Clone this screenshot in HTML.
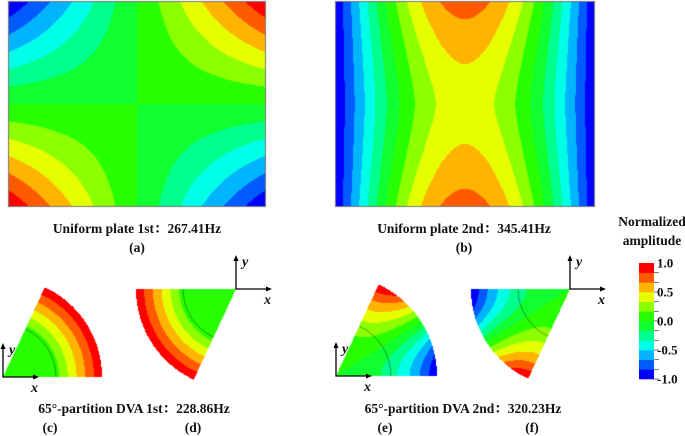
<!DOCTYPE html>
<html><head><meta charset="utf-8">
<style>
html,body{margin:0;padding:0;background:#fff;}
#wrap{position:relative;width:685px;height:436px;overflow:hidden;}
canvas,svg{position:absolute;left:0;top:0;}
text{font-family:"Liberation Serif","Noto Serif CJK SC",serif;font-weight:bold;fill:#111;}
</style></head>
<body>
<div id="wrap">
<canvas id="cv" width="685" height="436"></canvas>
<svg id="sv" width="685" height="436">
  <g font-size="13.5" text-anchor="middle">
    <text x="137" y="233">Uniform plate 1st：267.41Hz</text>
    <text x="137" y="252">(a)</text>
    <text x="464" y="233">Uniform plate 2nd：345.41Hz</text>
    <text x="464" y="252">(b)</text>
    <text x="134" y="413">65°-partition DVA 1st：228.86Hz</text>
    <text x="50" y="432">(c)</text>
    <text x="193" y="432">(d)</text>
    <text x="463" y="413">65°-partition DVA 2nd：320.23Hz</text>
    <text x="385" y="432">(e)</text>
    <text x="532" y="432">(f)</text>
    <text x="652" y="226">Normalized</text>
    <text x="652" y="245">amplitude</text>
  </g>
  <g id="axes" stroke="#000" stroke-width="1.3" fill="none"></g>
  <g id="axlab" font-size="14" font-style="italic"></g>
  <g id="cbar"></g>
</svg>
</div>
<script>
// colorbar data
const levelMin = -1, levelMax = 1;
const binColors = ["#0000ff","#005aff","#00b4ff","#00ffe6","#00ff8c","#10ff30","#28ff00","#8cff00","#e6ff00","#ffb400","#ff5a00","#ff0000"];
const tickValues = [1.0, 0.5, 0.0, -0.5, -1.0];
const tickLabels = ["1.0","0.5","0.0","-0.5","-1.0"];

function hex(c){return [parseInt(c.substr(1,2),16),parseInt(c.substr(3,2),16),parseInt(c.substr(5,2),16)];}
const rgb=binColors.map(hex);
function rgbOf(v){
  let t=(v-levelMin)/(levelMax-levelMin);
  let i=Math.floor(t*rgb.length);
  if(i<0)i=0; if(i>=rgb.length)i=rgb.length-1;
  return rgb[i];
}
const cv=document.getElementById('cv');
const ctx=cv.getContext('2d');
const img=ctx.createImageData(685,436);
function put(x,y,v){const c=rgbOf(v);const k=(y*685+x)*4;img.data[k]=c[0];img.data[k+1]=c[1];img.data[k+2]=c[2];img.data[k+3]=255;}
for(let k=0;k<img.data.length;k+=4){img.data[k]=255;img.data[k+1]=255;img.data[k+2]=255;img.data[k+3]=255;}
function rect(x0,y0,x1,y1,f){for(let y=y0;y<y1;y++)for(let x=x0;x<x1;x++){put(x,y,f((x+0.5-x0)/(x1-x0),(y+0.5-y0)/(y1-y0)));}}
rect(8,1,266,207,(u,w)=>-(2*u-1)*(2*w-1));
rect(335,1,595,207,(u,w)=>{const k=1.42+0.33*Math.pow(Math.abs(2*w-1),1.5);return -1+Math.sin(Math.PI*u)*k;});
const A=65*Math.PI/180;
function sector(cx,cy,R,down,f){
  for(let y=Math.floor(cy-R-2);y<cy+R+2;y++)for(let x=Math.floor(cx-R-2);x<cx+R+2;x++){
    if(x<0||y<0||x>=685||y>=436)continue;
    const dx=x+0.5-cx, dy=cy-(y+0.5);
    const r=Math.hypot(dx,dy); if(r>R)continue;
    const a=Math.atan2(dy,dx);
    const phi = down ? (a<0 ? a+Math.PI : 99) : a;
    if(phi<0||phi>A)continue;
    put(x,y,f(r/R,phi/A));
  }
}
const m1=(s,p)=>Math.max(0,s-0.48)*1.9;
const m2=(s,p)=>-Math.pow(s,2.2)*Math.cos(Math.PI*p);
sector(3,377,99,false,m1);
sector(236,289,100,true,m1);
sector(336,376,101,false,m2);
sector(570,289,99,true,m2);
ctx.putImageData(img,0,0);
ctx.strokeStyle='rgba(0,0,0,0.55)';ctx.lineWidth=0.7;
function arc(cx,cy,r,a0,a1){ctx.beginPath();ctx.arc(cx,cy,r,a0,a1);ctx.stroke();}
arc(3,377,53,-A,0);arc(236,289,53,Math.PI-A,Math.PI);
arc(336,376,55,-A,0);arc(570,289,52,Math.PI-A,Math.PI);
ctx.strokeStyle='#777';ctx.lineWidth=1;
ctx.strokeRect(8.5,1.5,257,205);ctx.strokeRect(335.5,1.5,259,205);

const svgns="http://www.w3.org/2000/svg";
const axes=document.getElementById('axes'), axlab=document.getElementById('axlab');
const axisSets=[[3,377,'c'],[236,289,'d'],[336,376,'e'],[570,289,'f']];
axisSets.forEach(([x,y,n])=>{
  const p=document.createElementNS(svgns,'path');
  p.setAttribute('d',`M${x} ${y-32}L${x} ${y}L${x+34} ${y}`);
  
  
  axes.appendChild(p);
  const h=document.createElementNS(svgns,'path');
  h.setAttribute('d',`M${x-2.5} ${y-28}L${x} ${y-34}L${x+2.5} ${y-28}Z M${x+30} ${y-2.5}L${x+36} ${y}L${x+30} ${y+2.5}Z`);
  h.setAttribute('fill','#000');h.setAttribute('stroke','none');
  
  
  axes.appendChild(h);
  const ty=document.createElementNS(svgns,'text');
  ty.setAttribute('x',x+6);ty.setAttribute('y',y-23);ty.textContent='y';
  
  
  axlab.appendChild(ty);
  const tx=document.createElementNS(svgns,'text');
  tx.setAttribute('x',x+28);tx.setAttribute('y',y+15);tx.textContent='x';
  
  
  axlab.appendChild(tx);
});

const cb=document.getElementById('cbar');
const cbX=639,cbW=15,cbTop=263,cbBot=379;
const yOf=v=>cbBot-(v-levelMin)/(levelMax-levelMin)*(cbBot-cbTop);
binColors.forEach((c,i)=>{
  const v0=levelMin+i*(levelMax-levelMin)/binColors.length, v1=levelMin+(i+1)*(levelMax-levelMin)/binColors.length;
  const r=document.createElementNS(svgns,'rect');
  r.setAttribute('x',cbX);r.setAttribute('y',yOf(v1));r.setAttribute('width',cbW);r.setAttribute('height',yOf(v0)-yOf(v1)+0.3);
  r.setAttribute('fill',c);
  
  
  cb.appendChild(r);
  const t=document.createElementNS(svgns,'line');
  t.setAttribute('x1',cbX+cbW);t.setAttribute('x2',cbX+cbW+5);t.setAttribute('y1',yOf(v0));t.setAttribute('y2',yOf(v0));
  t.setAttribute('stroke','#555');t.setAttribute('stroke-width','0.8');
  
  
  cb.appendChild(t);
});
tickValues.forEach((v,i)=>{
  const t=document.createElementNS(svgns,'text');
  t.setAttribute('x',cbX+cbW+3);t.setAttribute('y',yOf(v)+4.5);t.setAttribute('font-size','13');
  t.textContent=tickLabels[i];
  
  
  cb.appendChild(t);
});
</script>
</body></html>
